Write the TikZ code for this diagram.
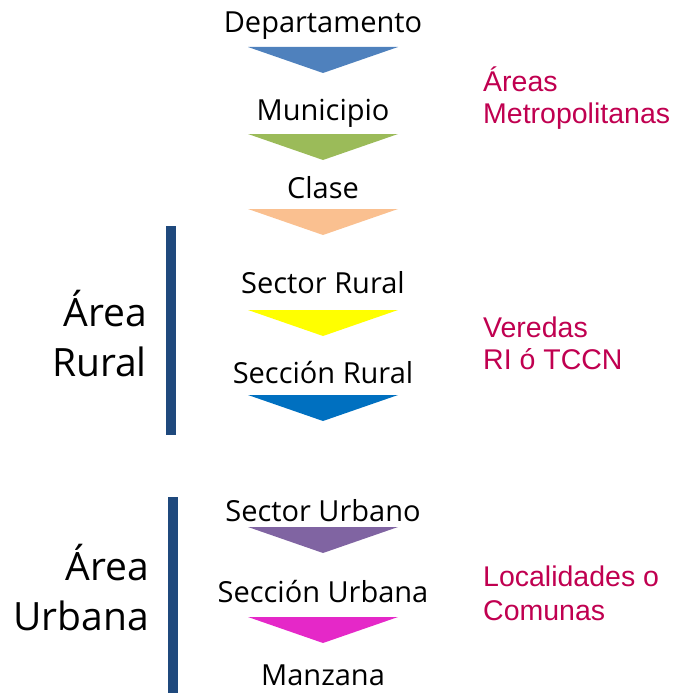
\documentclass[tikz,border=0pt]{standalone}
\usepackage{fontspec}
\setmainfont{Open Sans}
\newfontfamily\notefont{Liberation Sans}
\usepackage{tikz}
\usetikzlibrary{positioning}
\definecolor{barblue}{RGB}{31,73,125}
\definecolor{notered}{RGB}{192,0,80}
\definecolor{triA}{RGB}{79,129,189}
\definecolor{triB}{RGB}{155,187,89}
\definecolor{triC}{RGB}{250,192,144}
\definecolor{triD}{RGB}{255,255,0}
\definecolor{triE}{RGB}{0,112,192}
\definecolor{triF}{RGB}{128,100,162}
\definecolor{triG}{RGB}{229,40,200}
\tikzset{>=latex}

\begin{document}
\begin{tikzpicture}[x=1pt,y=-1pt,
		level/.style={inner sep=0pt, anchor=base, font=\fontsize{29}{34}\selectfont},
		zone/.style={inner sep=0pt, anchor=base east, align=right, font=\fontsize{39}{50}\selectfont},
		note/.style={inner sep=0pt, anchor=base west, align=left, text=notered, font=\notefont\fontsize{28.5}{32}\selectfont},
		bar/.style={fill=barblue}]
		\useasboundingbox (0,0) rectangle (679,693);
		% niveles
		\node[level] (dep) at (323,33) {Departamento};
		\node[level] (mun) at (323,120) {Municipio};
		\node[level] (cla) at (323,198) {Clase};
		\node[level] (sr) at (323,293) {Sector Rural};
		\node[level] (secr) at (323,383) {Sección Rural};
		\node[level] (su) at (323,521) {Sector Urbano};
		\node[level] (secu) at (323,602) {Sección Urbana};
		\node[level] (man) at (323,685) {Manzana};
		% flechas
		\foreach \y/\c in {47/triA,134/triB,209/triC,310/triD,395/triE,527/triF,617/triG}
			\fill[\c] (248,\y) -- (398,\y) -- (323,\y+26) -- cycle;
		% areas (base = ultima linea)
		\node[zone] (rural) at (147,376) {Área\\Rural};
		\node[zone] (urbana) at (149,630) {Área\\Urbana};
		\fill[bar] (166,226) rectangle (176,435);
		\fill[bar] (168,497) rectangle (178,693);
		% notas
		\node[note] (met) at (483,123) {Áreas\\Metropolitanas};
		\node[note] (ver) at (483,369) {Veredas\\RI ó TCCN};
		\node[note] (loc) at (483,620) {Localidades o\\[2pt]Comunas};
	\end{tikzpicture}
\end{document}
